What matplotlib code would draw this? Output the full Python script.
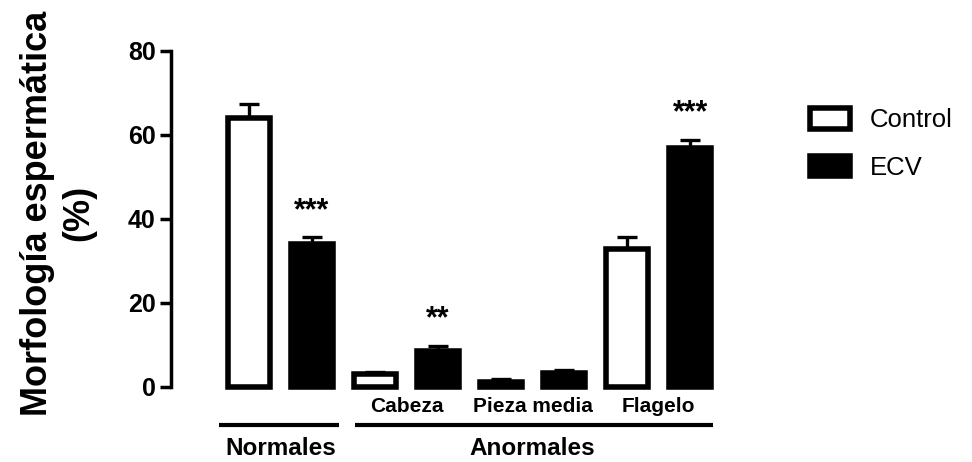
import numpy as np
import matplotlib
matplotlib.use("Agg")
import matplotlib.pyplot as plt
from matplotlib.patches import Patch

plt.rcParams['font.family'] = ['Liberation Sans', 'DejaVu Sans']

# ---- data ----
groups = ["Cabeza", "Pieza media", "Flagelo"]
series = ["Control", "ECV"]
# order: Normales, Cabeza, Pieza media, Flagelo
control_vals = [64.0, 3.0, 1.0, 32.8]
control_err = [3.3, 0.5, 0.8, 2.9]
ecv_vals = [34.0, 8.5, 3.2, 56.8]
ecv_err = [1.6, 1.3, 0.8, 2.0]
signif = ["***", "**", "", "***"]
yticks = [0, 20, 40, 60, 80]
main_groups = ["Normales", "Anormales"]

W, H = 9.72, 4.62
fig = plt.figure(figsize=(W, H), dpi=100)
ax = fig.add_axes([171 / 972, 75.3 / 462, (721.8 - 171) / 972, 336.2 / 462])

n = len(control_vals)
xc = np.arange(n) * 2.0
xe = xc + 1.0
bw = 0.67
lw_bar = 4.0

ax.bar(xc, control_vals, width=bw, color="white", edgecolor="black",
       linewidth=lw_bar, clip_on=False, zorder=2)
ax.bar(xe, ecv_vals, width=bw, color="black", edgecolor="black",
       linewidth=lw_bar, clip_on=False, zorder=2)

ekw = dict(fmt="none", ecolor="black", elinewidth=2.4, capsize=7.5,
           capthick=2.4, clip_on=False, zorder=1)
ax.errorbar(xc, control_vals, yerr=[np.zeros(n), control_err], **ekw)
ax.errorbar(xe, ecv_vals, yerr=[np.zeros(n), ecv_err], **ekw)

for x, v, e, s in zip(xe, ecv_vals, ecv_err, signif):
    if s:
        ax.annotate(s, xy=(x, v + e), xytext=(0, 13), textcoords="offset points",
                    ha="center", va="baseline", fontsize=22, fontweight="bold",
                    annotation_clip=False)

ax.set_ylim(0, 80)
ax.set_xlim(-1.233, 7.5)
ax.set_yticks(yticks)
ax.set_yticklabels([str(t) for t in yticks], fontsize=18, fontweight="bold")
ax.set_xticks([])
for sp in ["top", "right", "bottom"]:
    ax.spines[sp].set_visible(False)
ax.spines["left"].set_linewidth(2.5)
ax.tick_params(axis="y", length=8, width=2.5, pad=3, direction="out")

# subgroup labels (Anormales)
trans = ax.get_xaxis_transform()
for i, g in enumerate(groups, start=1):
    ax.text((xc[i] + xe[i]) / 2, -0.058, g, transform=trans, ha="center",
            va="center", fontsize=15, fontweight="bold", clip_on=False)

# group lines and labels
line_y = -0.115
ax.plot([xc[0] - 0.47, xe[0] + 0.43], [line_y, line_y], transform=trans,
        color="black", lw=3, clip_on=False, solid_capstyle="butt")
ax.plot([xc[1] - 0.31, xe[3] + 0.36], [line_y, line_y], transform=trans,
        color="black", lw=3, clip_on=False, solid_capstyle="butt")
ax.text((xc[0] + xe[0]) / 2, -0.184, main_groups[0], transform=trans,
        ha="center", va="center", fontsize=17.5, fontweight="bold", clip_on=False)
ax.text((xc[1] + xe[3]) / 2, -0.184, main_groups[1], transform=trans,
        ha="center", va="center", fontsize=17.5, fontweight="bold", clip_on=False)

# y label
fig.text(58 / 972, 1 - 213 / 462, "Morfología espermática\n(%)", rotation=90,
         ha="center", va="center", fontsize=26, fontweight="bold",
         multialignment="center", linespacing=1.25)

# legend
handles = [Patch(facecolor="white", edgecolor="black", linewidth=4),
           Patch(facecolor="black", edgecolor="black", linewidth=4)]
fig.legend(handles, series, loc="upper left",
           bbox_to_anchor=(800 / 972, 1 - 98 / 462), frameon=False,
           fontsize=18.5, handlelength=1.55, handleheight=0.85,
           handletextpad=0.75, labelspacing=0.9, borderaxespad=0)

fig.savefig("out.png", dpi=100)
